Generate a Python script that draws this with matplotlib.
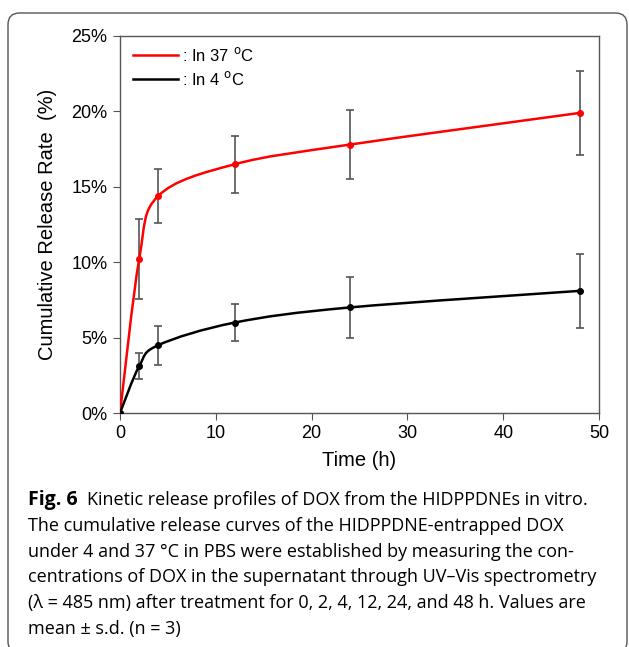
import matplotlib
matplotlib.use("Agg")
import matplotlib.pyplot as plt
import numpy as np
from matplotlib.path import Path
from matplotlib.patches import PathPatch, FancyBboxPatch

time_h = [0, 2, 4, 12, 24, 48]
release_37 = [0.0, 10.2, 14.4, 16.5, 17.8, 19.9]
err_37 = [0.0, 2.65, 1.8, 1.9, 2.3, 2.8]
release_4 = [0.0, 3.1, 4.5, 6.0, 7.0, 8.1]
err_4 = [0.0, 0.87, 1.3, 1.2, 2.0, 2.45]
legend_labels = [": In 37 $^{\\mathrm{o}}$C", ": In 4 $^{\\mathrm{o}}$C"]
y_ticks = [0, 5, 10, 15, 20, 25]
x_ticks = [0, 10, 20, 30, 40, 50]

W, H = 629, 647
fig = plt.figure(figsize=(W / 100, H / 100), dpi=100)
plt.rcParams['font.family'] = ['Liberation Sans', 'DejaVu Sans']

# outer rounded frame
frame = FancyBboxPatch((8 / W, -6 / H), 619 / W, (634 + 6) / H,
                       boxstyle="round,pad=0,rounding_size=0.018",
                       transform=fig.transFigure, fill=False,
                       edgecolor='#555555', linewidth=1.0)
fig.patches.append(frame)

ax = fig.add_axes([120 / W, 1 - 413 / H, (599 - 120) / W, (413 - 36) / H])


def smooth_path(xs, ys):
    # Bezier (Excel-like smoothing) through data points
    xs = np.asarray(xs, float)
    ys = np.asarray(ys, float)
    n = len(xs)
    verts = [(xs[0], ys[0])]
    codes = [Path.MOVETO]
    for i in range(n - 1):
        i0 = max(i - 1, 0)
        i3 = min(i + 2, n - 1)
        c1 = (xs[i] + (xs[i + 1] - xs[i0]) / 6, ys[i] + (ys[i + 1] - ys[i0]) / 6)
        c2 = (xs[i + 1] - (xs[i3] - xs[i]) / 6, ys[i + 1] - (ys[i3] - ys[i]) / 6)
        verts += [c1, c2, (xs[i + 1], ys[i + 1])]
        codes += [Path.CURVE4] * 3
    return Path(verts, codes)


for vals, errs, col in [(release_37, err_37, '#ff0000'), (release_4, err_4, '#000000')]:
    ax.errorbar(time_h, vals, yerr=errs, fmt='none', ecolor='#555555',
                elinewidth=1.2, capsize=3, capthick=1.2, zorder=2)
    ax.add_patch(PathPatch(smooth_path(time_h, vals), facecolor='none',
                           edgecolor=col, linewidth=1.8, zorder=3))
    ax.plot(time_h, vals, 'o', color=col, markersize=4, zorder=4)

# legend
ax.plot([1.36, 6.05], [23.74, 23.74], color='#ff0000', lw=1.8)
ax.plot([1.36, 6.05], [22.15, 22.15], color='#000000', lw=1.8)
ax.text(6.45, 23.74, legend_labels[0], fontsize=12, va='center', ha='left')
ax.text(6.45, 22.15, legend_labels[1], fontsize=12, va='center', ha='left')

ax.set_xlim(0, 50)
ax.set_ylim(0, 25)
ax.set_xticks(x_ticks)
ax.set_yticks(y_ticks)
ax.set_yticklabels([f"{v}%" for v in y_ticks])
for s in ax.spines.values():
    s.set_color('#555555')
    s.set_linewidth(1.0)
ax.tick_params(direction='out', length=5, color='#555555', labelsize=13, pad=4)
ax.set_xlabel("Time (h)", fontsize=14.5, labelpad=6)
ax.set_ylabel("Cumulative Release Rate  (%)", fontsize=14.5, labelpad=10)

# caption
cap_font = ['Open Sans', 'DejaVu Sans']
lines = [
    "The cumulative release curves of the HIDPPDNE-entrapped DOX",
    "under 4 and 37 \u00b0C in PBS were established by measuring the con-",
    "centrations of DOX in the supernatant through UV\u2013Vis spectrometry",
    "(\u03bb = 485 nm) after treatment for 0, 2, 4, 12, 24, and 48 h. Values are",
    "mean \u00b1 s.d. (n = 3)",
]
y0 = 500
fs = 13
fig.text(28 / W, 1 - y0 / H, "Fig. 6", fontsize=14, fontweight='bold',
         family=cap_font, va='center', ha='left')
fig.text(87 / W, 1 - y0 / H, "Kinetic release profiles of DOX from the HIDPPDNEs in vitro.",
         fontsize=fs, family=cap_font, va='center', ha='left')
for k, ln in enumerate(lines):
    fig.text(28 / W, 1 - (y0 + 25.8 * (k + 1)) / H, ln, fontsize=fs,
             family=cap_font, va='center', ha='left')

fig.savefig("out.png", dpi=100)
